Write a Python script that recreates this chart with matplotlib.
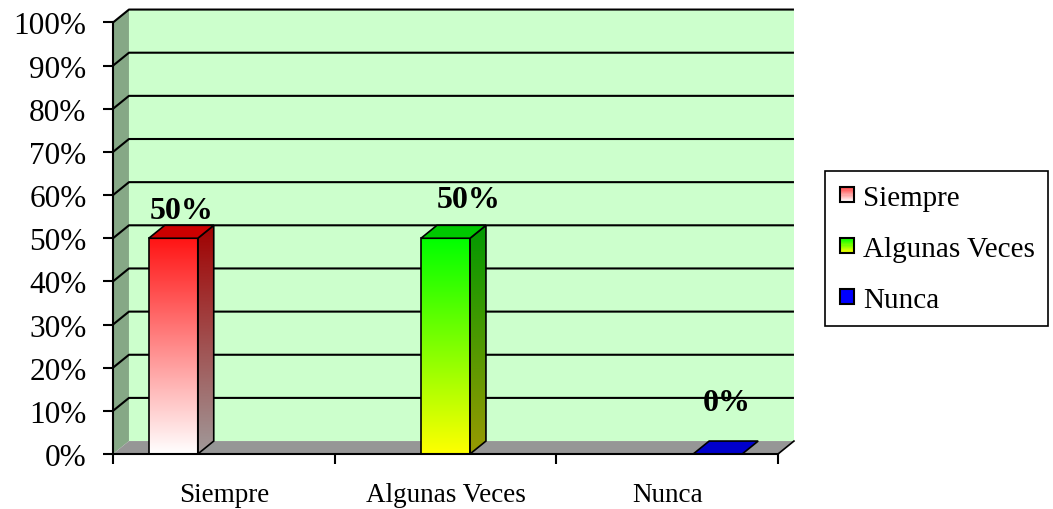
import numpy as np
import matplotlib
matplotlib.use("Agg")
import matplotlib.pyplot as plt
from matplotlib.patches import Polygon, Rectangle
from matplotlib.legend_handler import HandlerBase
from matplotlib.colors import to_rgb

categories = ["Siempre", "Algunas Veces", "Nunca"]
values = [50, 50, 0]
value_labels = ["50%", "50%", "0%"]
y_ticks = [0, 10, 20, 30, 40, 50, 60, 70, 80, 90, 100]

# front top, front bottom, side top, side bottom, top face
bar_colors = [
    ("#FF1414", "#FFFFFF", "#A00000", "#A09A9A", "#CC0000"),
    ("#00FF00", "#FFFF00", "#009900", "#999900", "#00C800"),
    ("#0000FF", "#0000FF", "#000099", "#000099", "#0000CC"),
]
legend_grad = [("#FF4040", "#FFFFFF"), ("#00FF00", "#FFFF00"), ("#0000FF", "#0000FF")]

# label nudges in points (x, y)
label_nudge = [(0, 0), (11, 8), (1, 17)]

plt.rcParams['font.family'] = 'Liberation Serif'

DX = 0.072   # depth in category units
DY = 3.0     # depth in percent units
BAR_W = 0.221
SLOT = 0.228


def grad_poly(ax, verts, top, bot, z):
    poly = Polygon(verts, closed=True, facecolor='none', edgecolor='black',
                   lw=1.2, zorder=z + 0.1, clip_on=False)
    ax.add_patch(poly)
    xs = [p[0] for p in verts]
    ys = [p[1] for p in verts]
    g = np.linspace(0, 1, 256)[:, None, None]
    c = (1 - g) * np.array(to_rgb(top)) + g * np.array(to_rgb(bot))
    im = ax.imshow(c, extent=[min(xs), max(xs), min(ys), max(ys)], origin='upper',
                   aspect='auto', zorder=z, interpolation='bilinear')
    im.set_clip_path(poly)


class GradHandler(HandlerBase):
    def __init__(self, top, bot):
        super().__init__()
        self.top = np.array(to_rgb(top))
        self.bot = np.array(to_rgb(bot))

    def create_artists(self, legend, orig_handle, xdescent, ydescent, width, height,
                       fontsize, trans):
        s = 10.5
        x0 = -xdescent + (width - s) / 2
        y0 = -ydescent + (height - s) / 2
        arts = []
        n = 12
        for k in range(n):
            f = (k + 0.5) / n
            col = (1 - f) * self.top + f * self.bot
            arts.append(Rectangle((x0, y0 + s * (1 - (k + 1) / n)), s, s / n,
                                  facecolor=col, edgecolor='none', transform=trans))
        arts.append(Rectangle((x0, y0), s, s, facecolor='none', edgecolor='black',
                              lw=1.5, transform=trans))
        return arts


fig = plt.figure(figsize=(10.53, 5.10), dpi=100)
ax = fig.add_axes([113 / 1053, 1 - 455 / 510, 665 / 1053, 431.5 / 510])
ax.set_facecolor('none')

xl0, xl1 = -0.5, len(categories) - 0.5

# walls and floor
ax.add_patch(Polygon([(xl0, 0), (xl0 + DX, DY), (xl0 + DX, 100 + DY), (xl0, 100)],
                     facecolor='#86A886', edgecolor='none', zorder=1, clip_on=False))
ax.add_patch(Polygon([(xl0 + DX, DY), (xl1 + DX, DY), (xl1 + DX, 100 + DY), (xl0 + DX, 100 + DY)],
                     facecolor='#CCFFCC', edgecolor='none', zorder=1, clip_on=False))
ax.add_patch(Polygon([(xl0, 0), (xl1, 0), (xl1 + DX, DY), (xl0 + DX, DY)],
                     facecolor='#969696', edgecolor='none', zorder=1, clip_on=False))
ax.plot([xl1, xl1 + DX], [0, DY], color='black', lw=1.2, zorder=2, clip_on=False)

for t in y_ticks[1:]:
    ax.plot([xl0, xl0 + DX, xl1 + DX], [t, t + DY, t + DY], color='black', lw=1.5,
            zorder=2, clip_on=False, solid_capstyle='butt')

# bars
for i, v in enumerate(values):
    ft, fb, st, sb, tc = bar_colors[i]
    xc = i + (i - 1) * SLOT
    x0, x1 = xc - BAR_W / 2, xc + BAR_W / 2
    if v > 0:
        grad_poly(ax, [(x0, 0), (x1, 0), (x1, v), (x0, v)], ft, fb, 4)
        grad_poly(ax, [(x1, 0), (x1 + DX, DY), (x1 + DX, v + DY), (x1, v)], st, sb, 4)
    ax.add_patch(Polygon([(x0, v), (x1, v), (x1 + DX, v + DY), (x0 + DX, v + DY)],
                         facecolor=tc, edgecolor='black', lw=1.2, zorder=5, clip_on=False))
    nx, ny = label_nudge[i]
    ax.annotate(value_labels[i], xy=(xc + DX / 2, v + DY), xytext=(nx, ny),
                textcoords='offset points', ha='center', va='bottom',
                fontsize=23, fontweight='bold', zorder=6)

ax.set_xlim(xl0, xl1)
ax.set_ylim(0, 100)
ax.set_yticks(y_ticks)
ax.set_yticklabels([f"{t}%" for t in y_ticks])
ax.set_xticks(np.arange(xl0, xl1 + 0.01, 1.0))
ax.set_xticklabels([])
ax.set_xticks(range(len(categories)), minor=True)
ax.set_xticklabels(categories, minor=True)
ax.tick_params(axis='y', direction='out', length=7, width=1.5, pad=12, labelsize=22.5)
ax.tick_params(axis='x', which='major', direction='out', length=7, width=1.5)
ax.tick_params(axis='x', which='minor', length=0, pad=20, labelsize=19.5)

for s in ['top', 'right']:
    ax.spines[s].set_visible(False)
for s in ['left', 'bottom']:
    ax.spines[s].set_linewidth(1.5)
    ax.spines[s].set_zorder(7)

handles = [Rectangle((0, 0), 1, 1) for _ in categories]
hmap = {h: GradHandler(*legend_grad[i]) for i, h in enumerate(handles)}
leg = fig.legend(handles, categories, handler_map=hmap, loc='upper left',
                 bbox_to_anchor=(825 / 1053, 1 - 172 / 510), fontsize=21,
                 frameon=True, fancybox=False, framealpha=1, edgecolor='black',
                 handlelength=0.6, handletextpad=0.25, labelspacing=0.85,
                 borderpad=0.45, borderaxespad=0)
leg.get_frame().set_linewidth(1.2)

fig.savefig('out.png', dpi=100, facecolor='white')
